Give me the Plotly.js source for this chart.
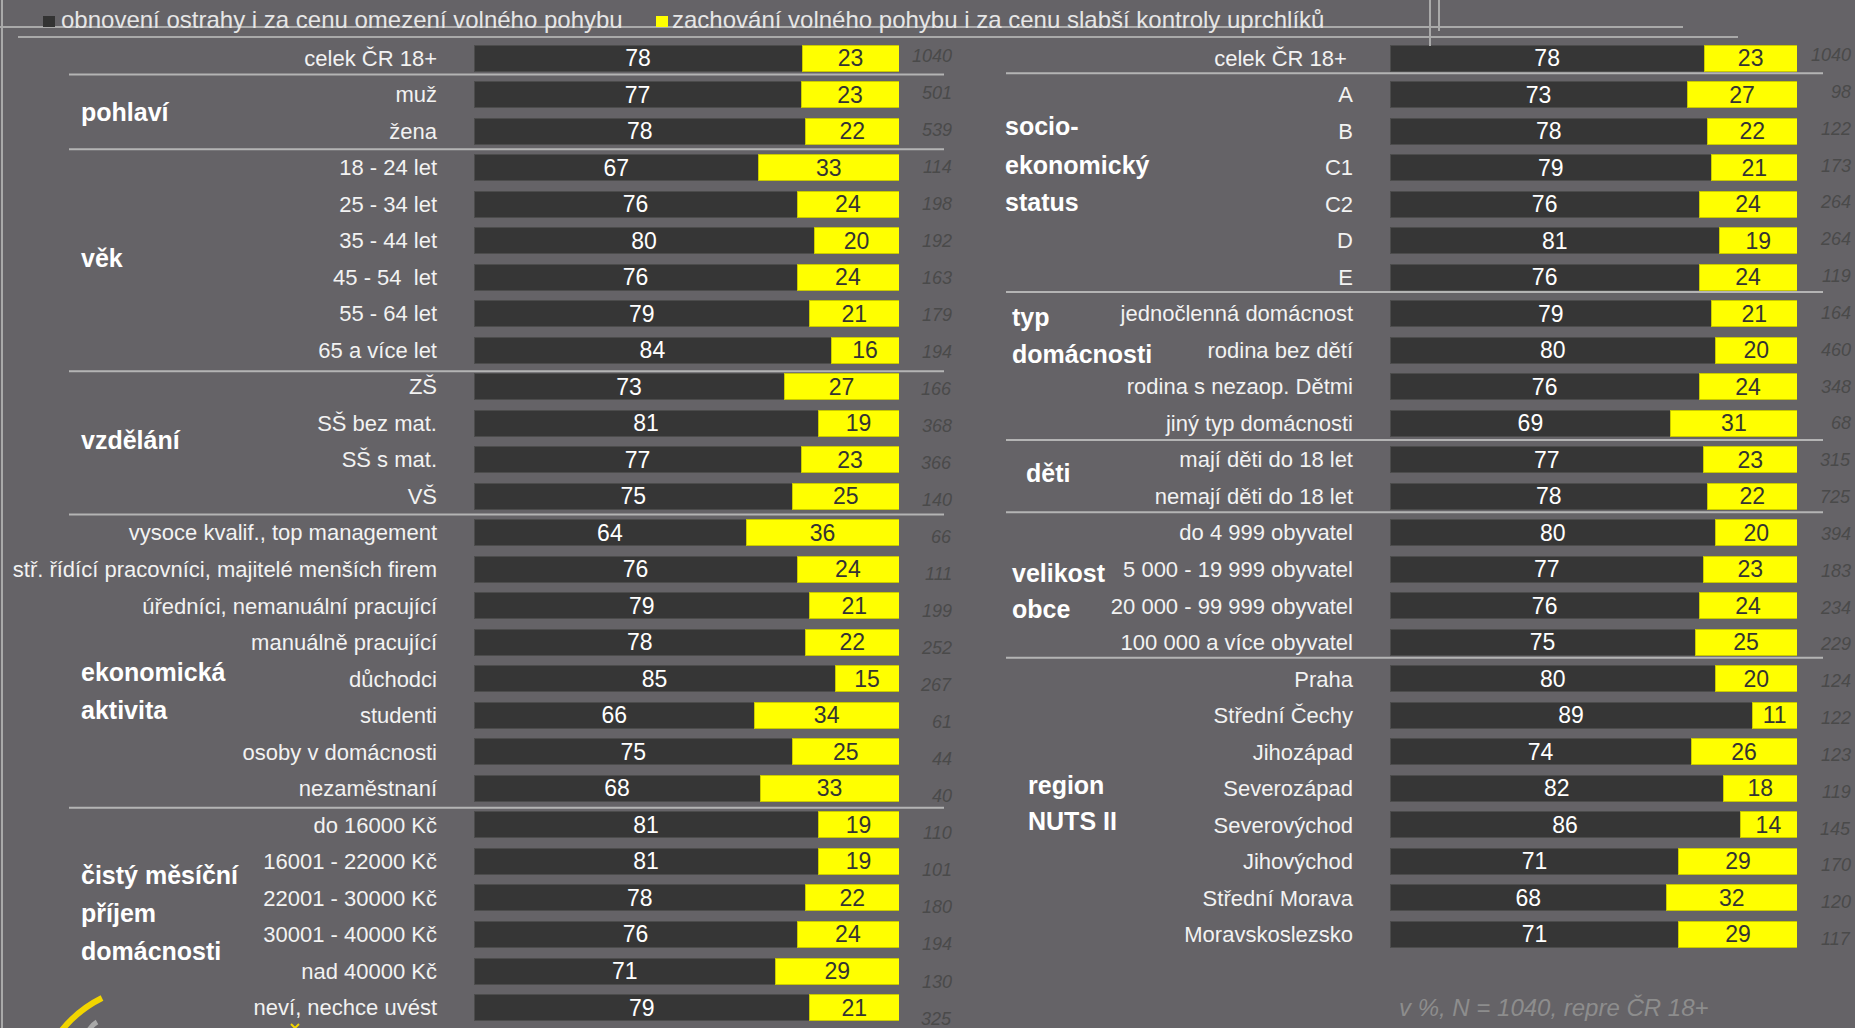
<!DOCTYPE html>
<html>
<head>
<meta charset="utf-8">
<script src="https://cdn.plot.ly/plotly-3.0.1.min.js"></script>
<style>
  html, body { margin: 0; padding: 0; background: #656367; }
  #chart { width: 1855px; height: 1028px; }
</style>
</head>
<body>
<div id="chart"></div>
<script>
// ---------------- DATA ----------------
const seriesNames = [
  'obnovení ostrahy i za cenu omezení volného pohybu',
  'zachování volného pohybu i za cenu slabší kontroly uprchlíků'
];

const leftCats = [
  'celek ČR 18+',
  'muž', 'žena',
  '18 - 24 let', '25 - 34 let', '35 - 44 let', '45 - 54  let', '55 - 64 let', '65 a více let',
  'ZŠ', 'SŠ bez mat.', 'SŠ s mat.', 'VŠ',
  'vysoce kvalif., top management', 'stř. řídící pracovníci, majitelé menších firem',
  'úředníci, nemanuální pracující', 'manuálně pracující', 'důchodci', 'studenti',
  'osoby v domácnosti', 'nezaměstnaní',
  'do 16000 Kč', '16001 - 22000 Kč', '22001 - 30000 Kč', '30001 - 40000 Kč',
  'nad 40000 Kč', 'neví, nechce uvést'
];
const leftObnoveni = [78, 77, 78, 67, 76, 80, 76, 79, 84, 73, 81, 77, 75, 64, 76, 79, 78, 85, 66, 75, 68, 81, 81, 78, 76, 71, 79];
const leftZachovani = [23, 23, 22, 33, 24, 20, 24, 21, 16, 27, 19, 23, 25, 36, 24, 21, 22, 15, 34, 25, 33, 19, 19, 22, 24, 29, 21];
const leftN = [1040, 501, 539, 114, 198, 192, 163, 179, 194, 166, 368, 366, 140, 66, 111, 199, 252, 267, 61, 44, 40, 110, 101, 180, 194, 130, 325];

const rightCats = [
  'celek ČR 18+ ',
  'A', 'B', 'C1', 'C2', 'D', 'E',
  'jednočlenná domácnost', 'rodina bez dětí', 'rodina s nezaop. Dětmi', 'jiný typ domácnosti',
  'mají děti do 18 let', 'nemají děti do 18 let',
  'do 4 999 obyvatel', '5 000 - 19 999 obyvatel', '20 000 - 99 999 obyvatel', '100 000 a více obyvatel',
  'Praha', 'Střední Čechy', 'Jihozápad', 'Severozápad', 'Severovýchod', 'Jihovýchod',
  'Střední Morava', 'Moravskoslezsko'
];
const rightObnoveni = [78, 73, 78, 79, 76, 81, 76, 79, 80, 76, 69, 77, 78, 80, 77, 76, 75, 80, 89, 74, 82, 86, 71, 68, 71];
const rightZachovani = [23, 27, 22, 21, 24, 19, 24, 21, 20, 24, 31, 23, 22, 20, 23, 24, 25, 20, 11, 26, 18, 14, 29, 32, 29];
const rightN = [1040, 98, 122, 173, 264, 264, 119, 164, 460, 348, 68, 315, 725, 394, 183, 234, 229, 124, 122, 123, 119, 145, 170, 120, 117];

const leftGroupNames = [['pohlaví'], ['věk'], ['vzdělání'], ['ekonomická', 'aktivita'], ['čistý měsíční', 'příjem', 'domácnosti']];
const rightGroupNames = [['socio-', 'ekonomický', 'status'], ['typ', 'domácnosti'], ['děti'], ['velikost', 'obce'], ['region', 'NUTS II']];
const footnote = 'v %, N = 1040, repre ČR 18+';

// ---------------- STYLE / LAYOUT ----------------
const W = 1855, H = 1028;
const FONT = 'Liberation Sans, Arial, sans-serif';
const BG = '#656367';
const DARK = '#363636';
const YEL = '#ffff00';
const px = v => v / W;
const py = v => 1 - v / H;

function barPair(cats, a, b, xa, ya) {
  const common = {
    type: 'bar', orientation: 'h', y: cats, xaxis: xa, yaxis: ya,
    texttemplate: '%{text}', textposition: 'inside', textangle: 0,
    insidetextanchor: 'middle', constraintext: 'none', hoverinfo: 'skip'
  };
  return [
    Object.assign({}, common, {
      x: a, name: seriesNames[0], text: a.map(String),
      marker: { color: DARK, line: { color: '#4c4c4c', width: 1 } },
      textfont: { family: FONT, size: 23, color: '#ffffff' }
    }),
    Object.assign({}, common, {
      x: b, name: seriesNames[1], text: b.map(String),
      marker: { color: YEL, line: { color: '#c9c900', width: 1 } },
      textfont: { family: FONT, size: 23, color: '#333333' }
    })
  ];
}

const traces = [
  ...barPair(leftCats, leftObnoveni, leftZachovani, 'x', 'y'),
  ...barPair(rightCats, rightObnoveni, rightZachovani, 'x2', 'y2')
];

// row 0 centre at 58px, pitch 36.52px
const pitch = 36.52, row0 = 58;
const yRange = [(H - row0) / pitch, -row0 / pitch];

function yAxis(cats, anchor) {
  return {
    type: 'category', categoryorder: 'array', categoryarray: cats,
    range: yRange, domain: [0, 1], anchor: anchor,
    showgrid: false, zeroline: false, showline: false, ticks: '',
    ticklabelstandoff: 36,
    tickfont: { family: FONT, size: 22, color: '#f2f2f2' },
    fixedrange: true
  };
}
function xAxis(d0, d1, anchor) {
  return {
    domain: [px(d0), px(d1)], range: [0, 100], anchor: anchor,
    showgrid: false, zeroline: false, showline: false, showticklabels: false, ticks: '',
    fixedrange: true
  };
}

const shapes = [];
const annotations = [];
function hline(x0, x1, y, color, width, ref) {
  shapes.push({
    type: 'line', xref: 'paper', yref: ref || 'paper',
    x0: px(x0), x1: px(x1), y0: y, y1: y,
    line: { color: color, width: width }
  });
}

// frame lines at top / left
hline(0, 1683, py(27), '#a9a9a9', 2);
hline(18, 1738, py(37), '#a9a9a9', 2);
shapes.push({ type: 'line', xref: 'paper', yref: 'paper', x0: px(1430), x1: px(1430), y0: py(0), y1: py(46), line: { color: '#a9a9a9', width: 2 } });
shapes.push({ type: 'line', xref: 'paper', yref: 'paper', x0: px(1439), x1: px(1439), y0: py(0), y1: py(31), line: { color: '#a9a9a9', width: 2 } });
shapes.push({ type: 'line', xref: 'paper', yref: 'paper', x0: px(2), x1: px(2), y0: 0, y1: 1, line: { color: '#a9a9a9', width: 2 } });

// group separators (between category indices)
[0.45, 2.5, 8.58, 12.5, 20.53].forEach(i => hline(69, 944, i, '#b4b4b4', 2, 'y'));
[0.42, 6.41, 10.46, 12.44, 16.42].forEach(i => hline(1006, 1823, i, '#b4b4b4', 2, 'y2'));

// legend
shapes.push({ type: 'rect', xref: 'paper', yref: 'paper', x0: px(43), x1: px(55), y0: py(27), y1: py(16), fillcolor: '#333333', line: { width: 0 } });
shapes.push({ type: 'rect', xref: 'paper', yref: 'paper', x0: px(656), x1: px(668), y0: py(27), y1: py(16), fillcolor: YEL, line: { width: 0 } });
annotations.push({ xref: 'paper', yref: 'paper', x: px(59), y: py(19), xanchor: 'left', yanchor: 'middle', showarrow: false,
  text: seriesNames[0], font: { family: FONT, size: 24, color: '#e6e6e6' } });
annotations.push({ xref: 'paper', yref: 'paper', x: px(670), y: py(19), xanchor: 'left', yanchor: 'middle', showarrow: false,
  text: seriesNames[1], font: { family: FONT, size: 24, color: '#e6e6e6' } });

// N values
leftN.forEach((n, i) => annotations.push({
  xref: 'paper', yref: 'y', x: px(954), y: i, xanchor: 'right', yanchor: 'middle', showarrow: false,
  yshift: -(-2 + 0.5 * i),
  text: '<i>' + n + '</i>', font: { family: FONT, size: 18, color: '#4a4a4a' }
}));
rightN.forEach((n, i) => annotations.push({
  xref: 'paper', yref: 'y2', x: px(1853), y: i, xanchor: 'right', yanchor: 'middle', showarrow: false,
  yshift: -(-3 + 0.32 * i),
  text: '<i>' + n + '</i>', font: { family: FONT, size: 18, color: '#4a4a4a' }
}));

// group labels (line positions in category index units)
const leftGroupPos = [[1.48], [5.47], [10.45], [16.8, 17.85], [22.36, 23.42, 24.46]];
const leftGroupX = [79, 79, 79, 79, 79];
const rightGroupPos = [[1.85, 2.92, 3.95], [7.09, 8.1], [11.36], [14.09, 15.1], [19.9, 20.9]];
const rightGroupX = [1003, 1010, 1024, 1010, 1026];
function groupLabels(names, pos, xs, yref) {
  names.forEach((lines, g) => lines.forEach((t, k) => annotations.push({
    xref: 'paper', yref: yref, x: px(xs[g]), y: pos[g][k], xanchor: 'left', yanchor: 'middle', showarrow: false,
    text: '<b>' + t + '</b>', font: { family: FONT, size: 25, color: '#ffffff' }
  })));
}
groupLabels(leftGroupNames, leftGroupPos, leftGroupX, 'y');
groupLabels(rightGroupNames, rightGroupPos, rightGroupX, 'y2');

// footnote
annotations.push({ xref: 'paper', yref: 'paper', x: px(1397), y: py(1007), xanchor: 'left', yanchor: 'middle', showarrow: false,
  text: '<i>' + footnote + '</i>', font: { family: FONT, size: 24, color: '#8d8d8d' } });

// logo fragment bottom-left
shapes.push({ type: 'path', xref: 'paper', yref: 'paper',
  path: `M ${px(102)},${py(998)} Q ${px(78)},${py(1010)} ${px(62)},${py(1030)}`,
  line: { color: '#f2d500', width: 6 } });
shapes.push({ type: 'path', xref: 'paper', yref: 'paper',
  path: `M ${px(97)},${py(1022)} Q ${px(92)},${py(1025)} ${px(89)},${py(1030)}`,
  line: { color: '#a9a9a9', width: 5 } });
shapes.push({ type: 'path', xref: 'paper', yref: 'paper',
  path: `M ${px(291)},${py(1024)} L ${px(295)},${py(1028)} L ${px(299)},${py(1024)}`,
  line: { color: '#f2d500', width: 2 } });

const layout = {
  width: W, height: H,
  margin: { l: 0, r: 0, t: 0, b: 0 },
  paper_bgcolor: BG, plot_bgcolor: BG,
  barmode: 'stack', barnorm: 'percent', bargap: 0.288,
  showlegend: false,
  uniformtext: { mode: 'show', minsize: 23 },
  font: { family: FONT },
  xaxis: xAxis(474, 899, 'y'),
  yaxis: yAxis(leftCats, 'x'),
  xaxis2: xAxis(1390, 1797, 'y2'),
  yaxis2: yAxis(rightCats, 'x2'),
  shapes: shapes,
  annotations: annotations
};

Plotly.newPlot('chart', traces, layout, { displayModeBar: false, staticPlot: true });
</script>
</body>
</html>
